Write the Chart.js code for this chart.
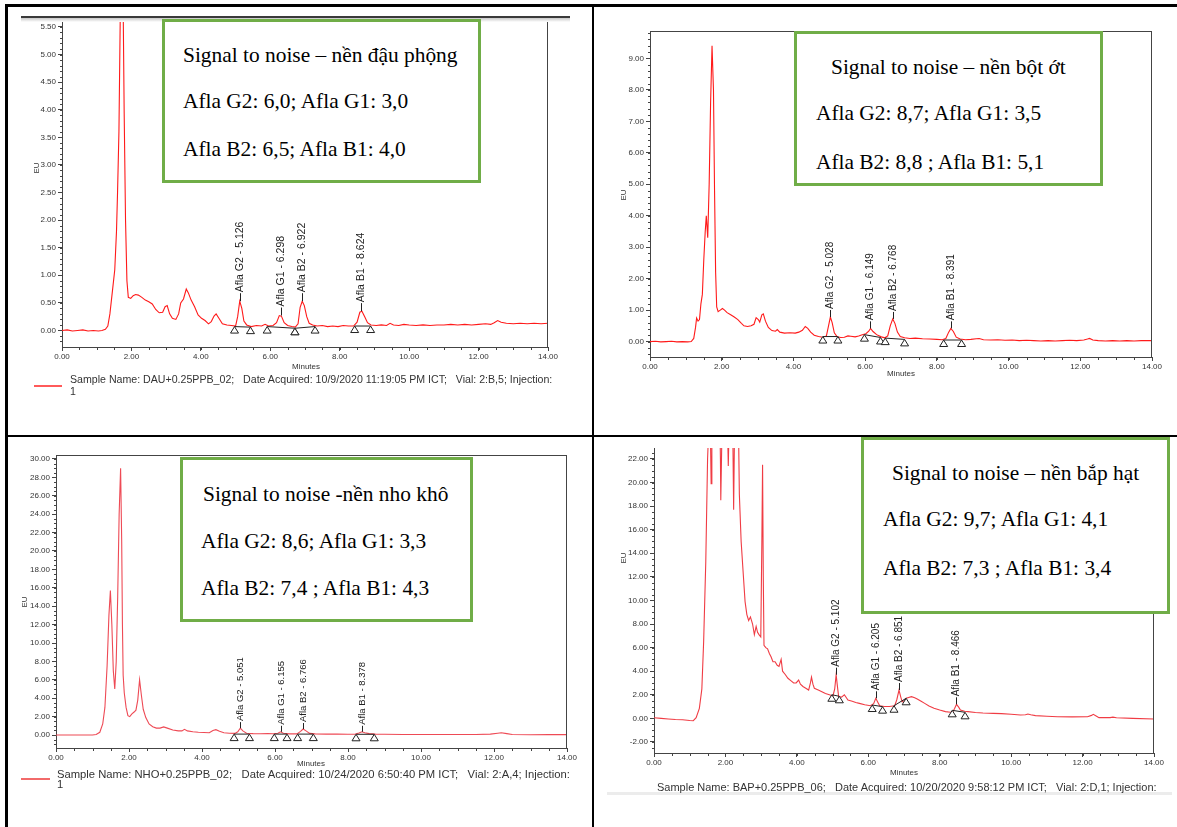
<!DOCTYPE html>
<html lang="vi">
<head>
<meta charset="utf-8">
<title>Signal to noise – Aflatoxin G2, G1, B2, B1</title>
<script src="https://cdn.jsdelivr.net/npm/chart.js@4.4.0/dist/chart.umd.min.js"></script>
<style>
  html, body { margin: 0; padding: 0; background: #fff; }
  #page { position: relative; width: 1177px; height: 827px; overflow: hidden; background: #fff; }
  canvas.chrom { position: absolute; left: 0; top: 0; }
  .rule { position: absolute; background: #000; }
  .note { position: absolute; box-sizing: border-box; border: 3px solid #70ad47; background: #fff;
          font-family: "Liberation Serif", "Times New Roman", serif; font-size: 21.4px; color: #000; }
  .note div { position: absolute; white-space: nowrap; line-height: 20px; }
  .legend { position: absolute; font-family: "Liberation Sans", Arial, sans-serif; color: #333; white-space: pre; }
  .swatch { position: absolute; height: 1.5px; }
</style>
</head>
<body>
<div id="page">
  <canvas id="peanutChart" class="chrom" width="1177" height="827"></canvas>
  <canvas id="chiliChart" class="chrom" width="1177" height="827"></canvas>
  <canvas id="raisinChart" class="chrom" width="1177" height="827"></canvas>
  <canvas id="cornChart" class="chrom" width="1177" height="827"></canvas>

  <!-- table grid -->
  <div class="rule" style="left:5px;top:4px;width:1172px;height:2.5px"></div>
  <div class="rule" style="left:5px;top:4px;width:2.5px;height:823px"></div>
  <div class="rule" style="left:591.5px;top:4px;width:2.5px;height:823px"></div>
  <div class="rule" style="left:5px;top:434.5px;width:1172px;height:2.5px"></div>

  <!-- top edge of the peanut printout -->
  <div style="position:absolute;left:21px;top:15.5px;width:549px;height:2px;background:#3a3a3a"></div>
  <div style="position:absolute;left:21px;top:17.5px;width:549px;height:4px;background:linear-gradient(#c8c8c8,#fff)"></div>
  <!-- bottom edge of the corn printout -->
  <div style="position:absolute;left:607px;top:792px;width:565px;height:3px;background:#ececec"></div>

  <div class="note" style="left:162px;top:19px;width:319px;height:164px">
    <div style="left:18px;top:23px">Signal to noise – nền đậu phộng</div>
    <div style="left:18px;top:69px">Afla G2: 6,0; Afla G1: 3,0</div>
    <div style="left:18px;top:117px">Afla B2: 6,5; Afla B1: 4,0</div>
  </div>
  <div class="note" style="left:794px;top:31px;width:309px;height:155px">
    <div style="left:34px;top:23px">Signal to noise – nền bột ớt</div>
    <div style="left:19px;top:69px">Afla G2: 8,7; Afla G1: 3,5</div>
    <div style="left:19px;top:118px">Afla B2: 8,8 ; Afla B1: 5,1</div>
  </div>
  <div class="note" style="left:180px;top:457px;width:293px;height:165px">
    <div style="left:20px;top:24px">Signal to noise -nền nho khô</div>
    <div style="left:18px;top:71px">Afla G2: 8,6; Afla G1: 3,3</div>
    <div style="left:18px;top:118px">Afla B2: 7,4 ; Afla B1: 4,3</div>
  </div>
  <div class="note" style="left:861px;top:437px;width:309px;height:177px">
    <div style="left:28px;top:23px">Signal to noise – nền bắp hạt</div>
    <div style="left:19px;top:69px">Afla G2: 9,7; Afla G1: 4,1</div>
    <div style="left:19px;top:118px">Afla B2: 7,3 ; Afla B1: 3,4</div>
  </div>

  <!-- sample legends -->
  <div class="swatch" style="left:34px;top:385px;width:28px;background:#ff5a5a"></div>
  <div class="legend fit" data-w="483" style="left:70px;top:373px;font-size:10.5px;line-height:12px">Sample Name: DAU+0.25PPB_02;   Date Acquired: 10/9/2020 11:19:05 PM ICT;   Vial: 2:B,5; Injection:
1</div>
  <div class="swatch" style="left:21px;top:778px;width:29px;background:#f26a6a"></div>
  <div class="legend fit" data-w="513" style="left:57px;top:769px;font-size:11px;line-height:10px">Sample Name: NHO+0.25PPB_02;   Date Acquired: 10/24/2020 6:50:40 PM ICT;   Vial: 2:A,4; Injection:
1</div>
  <div class="legend fit" data-w="500" style="left:657px;top:781px;font-size:11px;line-height:12px">Sample Name: BAP+0.25PPB_06;   Date Acquired: 10/20/2020 9:58:12 PM ICT;   Vial: 2:D,1; Injection:</div>
</div>

<script>
// retention time (min) vs response (EU)
const peakNames = ['Afla G2', 'Afla G1', 'Afla B2', 'Afla B1'];

const peanutTrace = [[0.00,0.00],[0.15,0.01],[0.30,-0.01],[0.45,0.00],[0.60,0.01],[0.75,-0.01],[0.90,0.00],[1.05,-0.01],[1.15,0.00],[1.25,0.02],[1.32,0.08],[1.38,0.30],[1.45,0.70],[1.52,1.10],[1.57,1.80],[1.60,2.50],[1.64,3.60],[1.68,5.80],[1.72,8.00],[1.76,6.00],[1.79,4.00],[1.83,2.00],[1.87,0.90],[1.91,0.60],[1.98,0.58],[2.05,0.63],[2.12,0.65],[2.20,0.64],[2.30,0.60],[2.40,0.55],[2.50,0.52],[2.60,0.48],[2.70,0.38],[2.80,0.32],[2.90,0.33],[2.97,0.43],[3.03,0.45],[3.10,0.30],[3.18,0.22],[3.28,0.20],[3.36,0.30],[3.42,0.50],[3.50,0.57],[3.58,0.75],[3.64,0.68],[3.72,0.55],[3.82,0.43],[3.92,0.28],[4.02,0.22],[4.12,0.18],[4.22,0.12],[4.30,0.16],[4.38,0.26],[4.44,0.30],[4.52,0.22],[4.62,0.12],[4.75,0.10],[4.88,0.09],[5.00,0.08],[5.06,0.25],[5.12,0.53],[5.18,0.40],[5.24,0.17],[5.32,0.10],[5.45,0.07],[5.60,0.09],[5.75,0.08],[5.85,0.11],[5.95,0.08],[6.08,0.09],[6.18,0.14],[6.26,0.27],[6.32,0.26],[6.40,0.14],[6.50,0.09],[6.62,0.07],[6.72,0.06],[6.80,0.12],[6.86,0.42],[6.92,0.53],[6.98,0.45],[7.05,0.25],[7.12,0.13],[7.22,0.10],[7.35,0.08],[7.50,0.09],[7.65,0.07],[7.80,0.08],[7.95,0.07],[8.10,0.09],[8.25,0.08],[8.40,0.08],[8.50,0.15],[8.58,0.33],[8.64,0.35],[8.72,0.25],[8.80,0.14],[8.90,0.10],[9.05,0.09],[9.20,0.10],[9.35,0.09],[9.45,0.13],[9.55,0.10],[9.70,0.09],[9.85,0.11],[10.00,0.10],[10.20,0.09],[10.40,0.10],[10.60,0.09],[10.80,0.10],[11.00,0.10],[11.20,0.11],[11.40,0.10],[11.60,0.11],[11.80,0.10],[12.00,0.11],[12.20,0.12],[12.35,0.11],[12.45,0.14],[12.55,0.18],[12.65,0.15],[12.80,0.13],[13.00,0.12],[13.20,0.13],[13.40,0.12],[13.60,0.13],[13.80,0.12],[14.00,0.13]];
const peanutPeakRT = [5.126, 6.298, 6.922, 8.624];
const peanutPeakEU = [0.53, 0.27, 0.53, 0.35];
const peanutBaseRT = [[4.97, 5.43], [5.91, 6.71], [6.71, 7.29], [8.43, 8.89]];
const peanutBaseEU = [[0.07, 0.06], [0.07, 0.04], [0.04, 0.07], [0.08, 0.08]];

const chiliTrace = [[0.00,0.00],[0.15,0.01],[0.30,-0.01],[0.45,0.00],[0.60,0.01],[0.75,-0.01],[0.90,0.00],[1.05,-0.01],[1.15,0.00],[1.22,0.10],[1.27,0.45],[1.30,0.75],[1.34,0.65],[1.38,0.70],[1.42,1.20],[1.46,1.50],[1.50,2.60],[1.54,3.50],[1.57,4.00],[1.61,3.30],[1.65,5.00],[1.69,7.60],[1.73,9.40],[1.77,8.00],[1.80,4.80],[1.83,2.20],[1.86,1.10],[1.90,0.95],[1.96,1.00],[2.02,1.05],[2.08,1.00],[2.15,0.92],[2.25,0.85],[2.35,0.78],[2.45,0.70],[2.55,0.58],[2.62,0.50],[2.72,0.48],[2.82,0.50],[2.90,0.55],[2.96,0.76],[3.02,0.70],[3.06,0.62],[3.12,0.85],[3.16,0.88],[3.22,0.65],[3.30,0.45],[3.40,0.35],[3.50,0.33],[3.55,0.38],[3.62,0.30],[3.75,0.27],[3.90,0.28],[4.05,0.27],[4.15,0.30],[4.25,0.36],[4.33,0.48],[4.40,0.42],[4.48,0.30],[4.58,0.20],[4.70,0.16],[4.82,0.14],[4.92,0.18],[4.97,0.45],[5.03,0.78],[5.08,0.60],[5.14,0.28],[5.22,0.15],[5.32,0.13],[5.42,0.14],[5.52,0.18],[5.60,0.17],[5.72,0.15],[5.82,0.18],[5.92,0.22],[6.02,0.25],[6.10,0.33],[6.15,0.42],[6.22,0.32],[6.32,0.22],[6.45,0.15],[6.55,0.12],[6.63,0.18],[6.70,0.50],[6.77,0.72],[6.83,0.58],[6.90,0.30],[6.98,0.16],[7.10,0.12],[7.25,0.10],[7.40,0.11],[7.60,0.09],[7.80,0.08],[8.00,0.07],[8.15,0.06],[8.25,0.10],[8.33,0.30],[8.39,0.42],[8.46,0.32],[8.54,0.14],[8.65,0.08],[8.80,0.06],[8.95,0.07],[9.10,0.09],[9.18,0.10],[9.30,0.06],[9.50,0.05],[9.70,0.06],[9.90,0.04],[10.10,0.05],[10.30,0.03],[10.50,0.04],[10.70,0.03],[10.90,0.02],[11.10,0.03],[11.30,0.02],[11.50,0.03],[11.70,0.04],[11.90,0.03],[12.10,0.05],[12.20,0.08],[12.26,0.10],[12.35,0.05],[12.50,0.03],[12.70,0.02],[12.90,0.03],[13.10,0.02],[13.30,0.03],[13.50,0.02],[13.70,0.03],[14.00,0.03]];
const chiliPeakRT = [5.028, 6.149, 6.768, 8.391];
const chiliPeakEU = [0.78, 0.42, 0.72, 0.42];
const chiliBaseRT = [[4.82, 5.24], [5.98, 6.43], [6.56, 7.10], [8.19, 8.69]];
const chiliBaseEU = [[0.16, 0.16], [0.22, 0.13], [0.11, 0.07], [0.05, 0.05]];

const raisinTrace = [[0.00,0.00],[0.20,0.00],[0.40,0.01],[0.60,0.00],[0.80,0.00],[1.00,0.01],[1.10,0.05],[1.20,0.30],[1.28,1.20],[1.34,3.00],[1.40,7.50],[1.45,13.0],[1.49,15.7],[1.53,12.0],[1.57,7.0],[1.61,5.0],[1.65,8.0],[1.69,15.0],[1.73,24.0],[1.77,29.0],[1.80,21.0],[1.82,12.0],[1.84,6.5],[1.87,4.6],[1.92,3.0],[1.97,2.1],[2.02,2.0],[2.08,2.3],[2.14,2.5],[2.19,2.7],[2.24,3.8],[2.29,6.0],[2.34,4.3],[2.39,2.8],[2.46,1.9],[2.55,1.2],[2.65,0.9],[2.75,0.75],[2.85,0.75],[2.95,0.88],[3.05,0.75],[3.20,0.55],[3.35,0.45],[3.45,0.45],[3.52,0.62],[3.60,0.45],[3.75,0.35],[3.90,0.30],[4.05,0.28],[4.20,0.25],[4.30,0.50],[4.38,0.58],[4.48,0.40],[4.60,0.25],[4.75,0.20],[4.90,0.18],[4.98,0.35],[5.05,0.75],[5.12,0.45],[5.22,0.20],[5.40,0.15],[5.60,0.14],[5.80,0.15],[5.95,0.14],[6.08,0.20],[6.15,0.35],[6.23,0.20],[6.40,0.12],[6.60,0.12],[6.70,0.40],[6.77,0.65],[6.85,0.45],[6.95,0.18],[7.10,0.12],[7.40,0.10],[7.70,0.10],[8.00,0.09],[8.20,0.10],[8.30,0.22],[8.38,0.35],[8.46,0.25],[8.58,0.15],[8.75,0.10],[9.00,0.08],[9.50,0.06],[10.00,0.05],[10.50,0.05],[11.00,0.05],[11.50,0.06],[11.90,0.10],[12.10,0.20],[12.20,0.25],[12.35,0.15],[12.50,0.05],[13.00,0.03],[13.50,0.04],[14.00,0.04]];
const raisinPeakRT = [5.051, 6.155, 6.766, 8.378];
const raisinPeakEU = [0.75, 0.35, 0.65, 0.35];
const raisinBaseRT = [[4.88, 5.30], [5.98, 6.33], [6.62, 7.05], [8.22, 8.72]];
const raisinBaseEU = [[0.10, 0.10], [0.10, 0.10], [0.10, 0.10], [0.08, 0.08]];

const cornTrace = [[0.00,0.05],[0.20,0.00],[0.40,-0.05],[0.60,-0.10],[0.80,-0.12],[1.00,-0.18],[1.10,-0.20],[1.18,0.05],[1.27,0.85],[1.34,2.50],[1.39,6.50],[1.45,13.3],[1.50,22.0],[1.55,26.0],[1.58,24.0],[1.60,19.9],[1.62,24.0],[1.65,26.0],[1.84,26.0],[1.86,22.0],[1.87,18.5],[1.89,22.0],[1.91,26.0],[2.05,26.0],[2.08,21.4],[2.11,26.0],[2.20,26.0],[2.23,17.7],[2.26,26.0],[2.36,26.0],[2.39,19.0],[2.44,15.0],[2.50,12.2],[2.55,9.9],[2.60,8.8],[2.65,8.3],[2.70,8.6],[2.76,8.0],[2.81,7.1],[2.86,7.8],[2.90,7.3],[2.94,7.1],[2.99,6.9],[3.02,15.0],[3.04,21.5],[3.06,12.0],[3.08,6.2],[3.13,6.0],[3.18,5.9],[3.23,5.5],[3.28,5.2],[3.33,4.8],[3.39,4.8],[3.45,4.5],[3.50,4.4],[3.56,5.0],[3.60,4.0],[3.68,3.7],[3.75,3.4],[3.83,3.2],[3.91,3.0],[3.98,3.0],[4.05,3.25],[4.10,2.9],[4.17,2.7],[4.25,2.55],[4.33,2.4],[4.38,3.0],[4.41,3.5],[4.45,2.9],[4.49,2.55],[4.60,2.4],[4.70,2.26],[4.80,2.1],[4.91,2.0],[5.01,1.9],[5.06,2.5],[5.10,3.7],[5.14,2.6],[5.17,1.84],[5.25,1.8],[5.33,2.0],[5.43,1.55],[5.55,1.45],[5.65,1.35],[5.75,1.27],[5.90,1.15],[6.06,1.07],[6.15,1.25],[6.21,1.70],[6.27,1.35],[6.32,1.07],[6.45,1.00],[6.59,1.00],[6.74,1.07],[6.80,1.60],[6.86,2.40],[6.91,1.80],[6.95,1.40],[7.00,1.50],[7.06,1.70],[7.21,1.84],[7.30,1.75],[7.37,1.64],[7.48,1.45],[7.58,1.27],[7.70,1.05],[7.84,0.85],[8.00,0.70],[8.16,0.57],[8.30,0.52],[8.37,0.55],[8.42,0.85],[8.47,1.19],[8.53,0.95],[8.58,0.70],[8.70,0.60],[8.79,0.57],[9.00,0.50],[9.21,0.45],[9.50,0.42],[9.73,0.40],[10.00,0.35],[10.26,0.28],[10.40,0.30],[10.47,0.37],[10.55,0.30],[10.68,0.23],[11.00,0.18],[11.30,0.14],[11.70,0.12],[12.14,0.14],[12.25,0.25],[12.30,0.34],[12.38,0.20],[12.46,0.06],[12.77,0.06],[12.85,0.10],[12.95,0.05],[13.40,0.00],[14.00,-0.06]];
const cornPeakRT = [5.102, 6.205, 6.851, 8.466];
const cornPeakEU = [3.7, 1.70, 2.4, 1.19];
const cornBaseRT = [[4.98, 5.19], [6.11, 6.40], [6.72, 7.06], [8.35, 8.71]];
const cornBaseEU = [[2.00, 1.87], [1.13, 0.99], [1.07, 1.70], [0.68, 0.51]];

const PAGE_W = 1177, PAGE_H = 827;
const tickFont = { family: 'Liberation Sans', size: 8 };

// minor ticks, plot frame, integration baselines, peak names and axis titles
const chromDecor = {
  id: 'chromDecor',
  afterDraw(chart, args, o) {
    const { ctx, chartArea: a, scales: { x, y } } = chart;
    ctx.save();
    ctx.strokeStyle = '#444';
    ctx.lineWidth = 1;
    ctx.beginPath();
    if (o.frameTop) { ctx.moveTo(a.left, a.top + 0.5); ctx.lineTo(a.right, a.top + 0.5); }
    ctx.moveTo(a.right - 0.5, a.top); ctx.lineTo(a.right - 0.5, a.bottom);
    for (let i = 0; i * o.xMinor <= x.max + 1e-9; i++) {
      const px = Math.round(x.getPixelForValue(i * o.xMinor)) + 0.5;
      ctx.moveTo(px, a.bottom); ctx.lineTo(px, a.bottom + 3);
    }
    for (let i = Math.ceil(y.min / o.yMinor); i * o.yMinor <= y.max; i++) {
      const py = Math.round(y.getPixelForValue(i * o.yMinor)) + 0.5;
      ctx.moveTo(a.left - 2, py); ctx.lineTo(a.left, py);
    }
    ctx.stroke();

    // integration baselines with their start/stop markers
    ctx.strokeStyle = '#222';
    o.baseRT.forEach((seg, s) => {
      const pts = seg.map((t, k) => [x.getPixelForValue(t), y.getPixelForValue(o.baseEU[s][k])]);
      ctx.beginPath();
      pts.forEach(([px, py], k) => (k ? ctx.lineTo(px, py) : ctx.moveTo(px, py)));
      ctx.stroke();
      pts.forEach(([px, py]) => {
        ctx.beginPath();
        ctx.moveTo(px, py);
        ctx.lineTo(px - 4, py + 6.5);
        ctx.lineTo(px + 4, py + 6.5);
        ctx.closePath();
        ctx.fillStyle = '#fff';
        ctx.fill();
        ctx.stroke();
      });
    });

    // peak names, standing on a short stem above each apex
    ctx.fillStyle = '#222';
    ctx.font = o.labelSize + 'px "Liberation Sans", Arial, sans-serif';
    ctx.textAlign = 'left';
    ctx.textBaseline = 'middle';
    o.peakRT.forEach((rt, i) => {
      const px = Math.round(x.getPixelForValue(rt)) + 0.5;
      const py = y.getPixelForValue(o.peakEU[i]);
      ctx.beginPath();
      ctx.moveTo(px, py); ctx.lineTo(px, py - o.stem);
      ctx.stroke();
      ctx.save();
      ctx.translate(px, py - o.stem - 1);
      ctx.rotate(-Math.PI / 2);
      ctx.fillText(peakNames[i] + ' - ' + rt.toFixed(3), 0, 0);
      ctx.restore();
    });

    ctx.fillStyle = '#333';
    ctx.font = '8px "Liberation Sans", Arial, sans-serif';
    ctx.textAlign = 'center';
    ctx.fillText('Minutes', o.minutesAt[0], o.minutesAt[1]);
    ctx.save();
    ctx.translate(o.euAt[0], o.euAt[1]);
    ctx.rotate(-Math.PI / 2);
    ctx.fillText('EU', 0, 0);
    ctx.restore();
    ctx.restore();
  }
};

function drawChrom(id, c) {
  const yw = 40, xh = 20;
  const [left, top, right, bottom] = c.plot;
  return new Chart(document.getElementById(id), {
    type: 'line',
    data: {
      datasets: [{
        data: c.trace.map(([t, v]) => ({ x: t, y: v })),
        borderColor: c.color,
        borderWidth: 1.1,
        pointRadius: 0,
        tension: 0,
        fill: false
      }]
    },
    options: {
      responsive: false,
      animation: false,
      events: [],
      layout: { padding: { left: left - yw, top: top, right: PAGE_W - right, bottom: PAGE_H - bottom - xh } },
      plugins: {
        legend: { display: false },
        tooltip: { enabled: false },
        chromDecor: c.decor
      },
      scales: {
        x: {
          type: 'linear', min: 0, max: 14,
          afterFit: s => { s.height = xh; },
          ticks: { stepSize: 2, autoSkip: false, maxRotation: 0, padding: 1, color: '#333', font: tickFont,
                   includeBounds: false, callback: v => v.toFixed(2) },
          grid: { drawOnChartArea: false, tickLength: 4, color: '#444' },
          border: { color: '#444', width: 1 }
        },
        y: {
          type: 'linear', min: c.yMin, max: c.yMax,
          afterFit: s => { s.width = yw; },
          ticks: { stepSize: c.yStep, autoSkip: false, padding: 2, color: '#333', font: tickFont,
                   includeBounds: false, callback: v => v.toFixed(2) },
          grid: { drawOnChartArea: false, tickLength: 4, color: '#444' },
          border: { color: '#444', width: 1 }
        }
      }
    },
    plugins: [chromDecor]
  });
}

drawChrom('peanutChart', {
  trace: peanutTrace, color: '#ff1a1a', plot: [62, 17, 548, 347], yMin: -0.30, yMax: 5.68, yStep: 0.5,
  decor: { frameTop: true, xMinor: 0.5, yMinor: 0.1, peakRT: peanutPeakRT, peakEU: peanutPeakEU,
           baseRT: peanutBaseRT, baseEU: peanutBaseEU, labelSize: 10.5, stem: 8,
           minutesAt: [306, 367], euAt: [37, 168] }
});
drawChrom('chiliChart', {
  trace: chiliTrace, color: '#ff1a1a', plot: [650, 31, 1152, 357], yMin: -0.49, yMax: 9.87, yStep: 1,
  decor: { frameTop: true, xMinor: 0.5, yMinor: 0.2, peakRT: chiliPeakRT, peakEU: chiliPeakEU,
           baseRT: chiliBaseRT, baseEU: chiliBaseEU, labelSize: 10, stem: 7,
           minutesAt: [901, 374], euAt: [624, 195] }
});
drawChrom('raisinChart', {
  trace: raisinTrace, color: '#ee4a55', plot: [56, 455, 567, 748], yMin: -1.41, yMax: 30.43, yStep: 2,
  decor: { frameTop: true, xMinor: 0.5, yMinor: 0.5, peakRT: raisinPeakRT, peakEU: raisinPeakEU,
           baseRT: raisinBaseRT, baseEU: raisinBaseEU, labelSize: 9.5, stem: 6,
           minutesAt: [311, 764], euAt: [25, 602] }
});
drawChrom('cornChart', {
  trace: cornTrace, color: '#f03c44', plot: [654, 448, 1154, 753], yMin: -2.94, yMax: 22.93, yStep: 2,
  decor: { frameTop: false, xMinor: 0.5, yMinor: 0.5, peakRT: cornPeakRT, peakEU: cornPeakEU,
           baseRT: cornBaseRT, baseEU: cornBaseEU, labelSize: 10, stem: 7,
           minutesAt: [904, 773], euAt: [624, 558] }
});

// stretch the sample lines to the width of the printout
document.querySelectorAll('.fit').forEach(el => {
  const first = el.textContent.split('\n')[0];
  const probe = document.createElement('span');
  probe.style.cssText = 'position:absolute;visibility:hidden;white-space:pre;font-family:' +
    getComputedStyle(el).fontFamily + ';font-size:' + getComputedStyle(el).fontSize;
  probe.textContent = first;
  document.body.appendChild(probe);
  const fs = parseFloat(getComputedStyle(el).fontSize) * (+el.dataset.w) / probe.getBoundingClientRect().width;
  el.style.fontSize = fs.toFixed(2) + 'px';
  probe.remove();
});
</script>
</body>
</html>
